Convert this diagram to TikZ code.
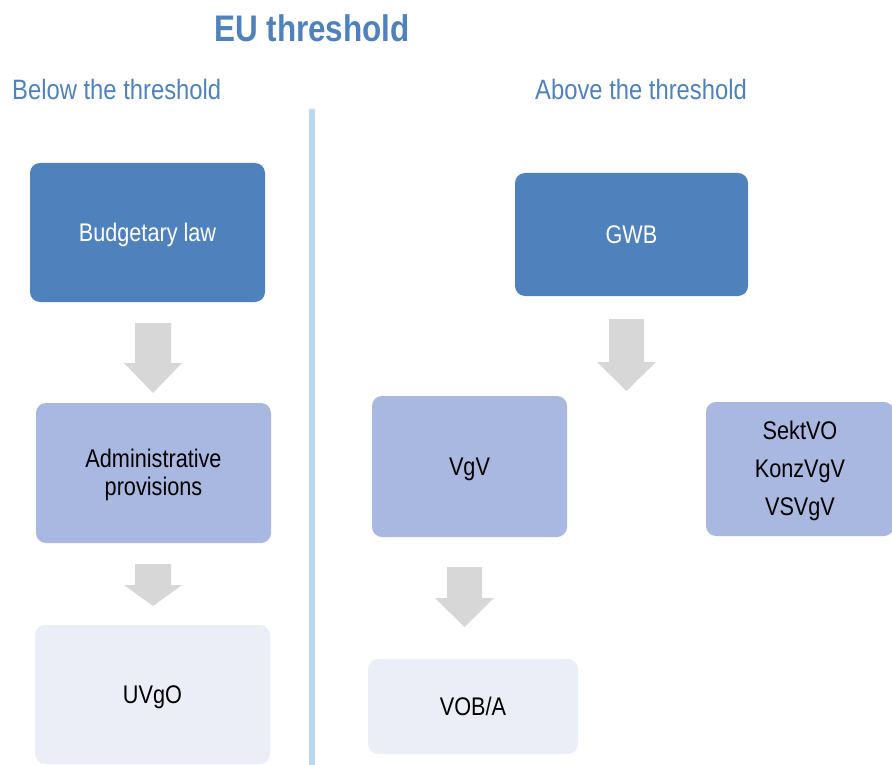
\documentclass[tikz,border=0pt]{standalone}
\usepackage{fontspec}
\setmainfont[FakeStretch=0.85]{Liberation Sans}

\definecolor{darkbox}{HTML}{4F81BD}
\definecolor{midbox}{HTML}{A8B8E1}
\definecolor{lightbox}{HTML}{EBEEF6}
\definecolor{arrowgray}{HTML}{D7D7D7}
\definecolor{divider}{HTML}{BDD7EE}
\definecolor{headblue}{HTML}{4F81BD}

% block arrow pointing down: centre x, shaft top, head top, tip, shaft half width, head half width
\newcommand\downblock[6]{%
  \fill[arrowgray] ({#1-#5},#2) -- ({#1+#5},#2) -- ({#1+#5},#3) -- ({#1+#6},#3)
    -- (#1,#4) -- ({#1-#6},#3) -- ({#1-#5},#3) -- cycle;}

\begin{document}
\begin{tikzpicture}[x=1pt,y=-1pt,
  box/.style={rounded corners=10pt, inner sep=0pt, align=center,
    text height=18pt, text depth=0pt, font=\fontsize{25.5}{28}\selectfont},
  level1/.style={box, fill=darkbox, text=white},
  level2/.style={box, fill=midbox, text=black},
  level3/.style={box, fill=lightbox, text=black},
  head/.style={inner sep=0pt, text=headblue, font=\fontsize{28}{32}\selectfont, anchor=base west},
]
\useasboundingbox (0,0) rectangle (892,765);

% headings
\node[inner sep=0pt, anchor=base, text=headblue, font=\bfseries\fontsize{37}{40}\selectfont]
  (title) at (312,42) {EU threshold};
\node[head] (below) at (12,100) {Below the threshold};
\node[head] (above) at (535,100) {Above the threshold};

% dividing line
\fill[divider] (309,109) rectangle (315,765);

% below the threshold
\node[level1, minimum width=235pt, minimum height=139pt] (budget) at (147.5,232.5) {Budgetary law};
\node[level2, minimum width=235pt, minimum height=140pt, text height=44pt, text depth=0pt]
  (admin) at (153.5,473) {Administrative\\provisions};
\node[level3, minimum width=235pt, minimum height=139pt] (uvgo) at (152.5,694.5) {UVgO};

\downblock{153}{323}{363}{393}{18}{29}
\downblock{153}{564}{585}{606}{18}{29}

% above the threshold
\node[level1, minimum width=233pt, minimum height=123pt] (gwb) at (631.5,234.5) {GWB};
\node[level2, minimum width=195pt, minimum height=141pt] (vgv) at (469.5,466.5) {VgV};
\node[level2, minimum width=188pt, minimum height=134pt, text height=92pt, text depth=0pt,
  font=\fontsize{25.5}{38}\selectfont] (sekt) at (800,469) {SektVO\\KonzVgV\\VSVgV};
\node[level3, minimum width=210pt, minimum height=95pt] (vob) at (473,706.5) {VOB/A};

\downblock{626.5}{319}{362}{391}{17.5}{29.5}
\downblock{464.5}{567}{598}{627}{17.5}{29.5}
\end{tikzpicture}
\end{document}
